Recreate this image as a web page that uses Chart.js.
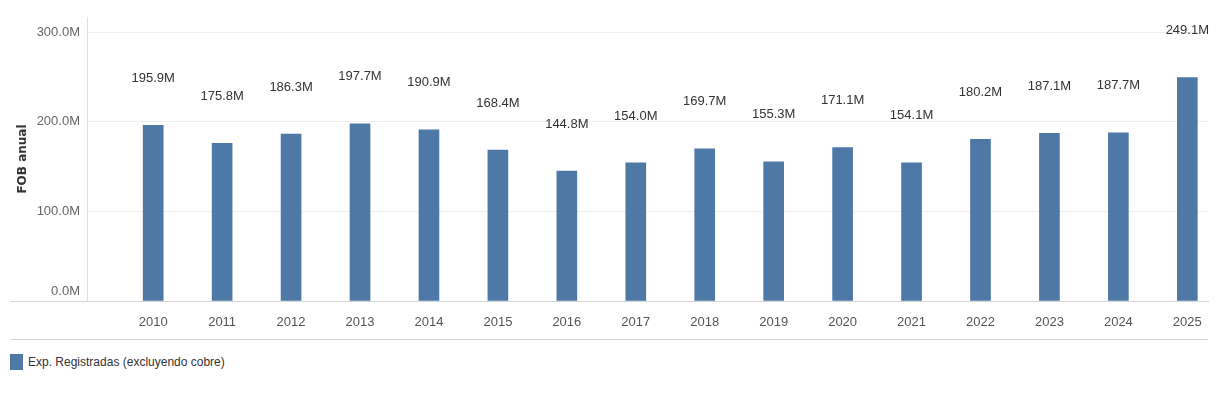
<!DOCTYPE html>
<html>
<head>
<meta charset="utf-8">
<script src="https://cdn.jsdelivr.net/npm/chart.js@4"></script>
<style>
  body { margin: 0; background: #fff; font-family: "Liberation Sans", Arial, sans-serif; }
  #wrap { position: relative; width: 1228px; height: 394px; }
  #grafico { position: absolute; left: 0; top: 0; }
  #sep { position: absolute; left: 10px; top: 339px; width: 1198px; border-top: 1px solid #d4d4d4; }
  #leyenda { position: absolute; left: 10px; top: 354px; display: flex; align-items: center; font-size: 12px; color: #333; }
  #leyenda span.cuadro { display: inline-block; width: 13px; height: 16px; background: #4e79a7; margin-right: 5px; }
</style>
</head>
<body>
<div id="wrap">
  <canvas id="grafico" width="1228" height="340"></canvas>
  <div id="sep"></div>
  <div id="leyenda"><span class="cuadro"></span>Exp. Registradas (excluyendo cobre)</div>
</div>
<script>
const anios = ['2010','2011','2012','2013','2014','2015','2016','2017','2018','2019','2020','2021','2022','2023','2024','2025'];
const fobAnual = [195.9, 175.8, 186.3, 197.7, 190.9, 168.4, 144.8, 154.0, 169.7, 155.3, 171.1, 154.1, 180.2, 187.1, 187.7, 249.1];
const ticksY = [0, 100, 200, 300];

const fuente = '"Liberation Sans", Arial, sans-serif';

// etiquetas de valor sobre cada barra + linea base extendida
const extras = {
  id: 'extras',
  afterDatasetsDraw(chart) {
    const ctx = chart.ctx;
    const meta = chart.getDatasetMeta(0);
    ctx.save();
    ctx.font = '13px ' + fuente;
    ctx.fillStyle = '#333';
    ctx.textAlign = 'center';
    ctx.textBaseline = 'middle';
    meta.data.forEach((bar, i) => {
      ctx.fillText(fobAnual[i].toFixed(1) + 'M', bar.x, bar.y - 47);
    });
    const y0 = chart.scales.y.getPixelForValue(0);
    ctx.strokeStyle = '#d4d4d4';
    ctx.lineWidth = 1;
    ctx.beginPath();
    ctx.moveTo(10, Math.round(y0) + 0.5);
    ctx.lineTo(chart.chartArea.right, Math.round(y0) + 0.5);
    ctx.stroke();
    ctx.restore();
  }
};

new Chart(document.getElementById('grafico'), {
  type: 'bar',
  data: {
    datasets: [{
      label: 'Exp. Registradas (excluyendo cobre)',
      data: fobAnual.map((v, i) => ({ x: i, y: v })),
      backgroundColor: '#4e79a7',
      barThickness: 20
    }]
  },
  options: {
    responsive: false,
    animation: false,
    layout: { padding: { top: 16, right: 20, left: 0, bottom: 0 } },
    plugins: { legend: { display: false }, tooltip: { enabled: false } },
    scales: {
      x: {
        type: 'linear',
        offset: false,
        min: -0.96,
        max: 15.3,
        grid: { display: false, drawTicks: false },
        border: { display: true, color: '#d4d4d4' },
        afterBuildTicks: s => { s.ticks = anios.map((a, i) => ({ value: i })); },
        ticks: {
          autoSkip: false,
          maxRotation: 0,
          padding: 14,
          color: '#555',
          font: { family: fuente, size: 13 },
          callback: v => anios[v]
        },
        afterFit: s => { s.height = 39; }
      },
      y: {
        min: 0,
        max: 316.7,
        grid: { color: '#efefef', drawTicks: false },
        border: { display: true, color: '#e0e0e0' },
        afterBuildTicks: s => { s.ticks = ticksY.map(v => ({ value: v })); },
        ticks: {
          autoSkip: false,
          padding: 7,
          color: '#666',
          font: { family: fuente, size: 13, lineHeight: 1.55 },
          callback: v => v === 0 ? ['0.0M', ''] : v.toFixed(1) + 'M'
        },
        title: {
          display: true,
          text: 'FOB anual',
          color: '#333',
          font: { family: '"DejaVu Sans", sans-serif', size: 12, weight: 'bold' },
          padding: { top: 16, bottom: 0 }
        },
        afterFit: s => { s.width = 87; }
      }
    }
  },
  plugins: [extras]
});
</script>
</body>
</html>
